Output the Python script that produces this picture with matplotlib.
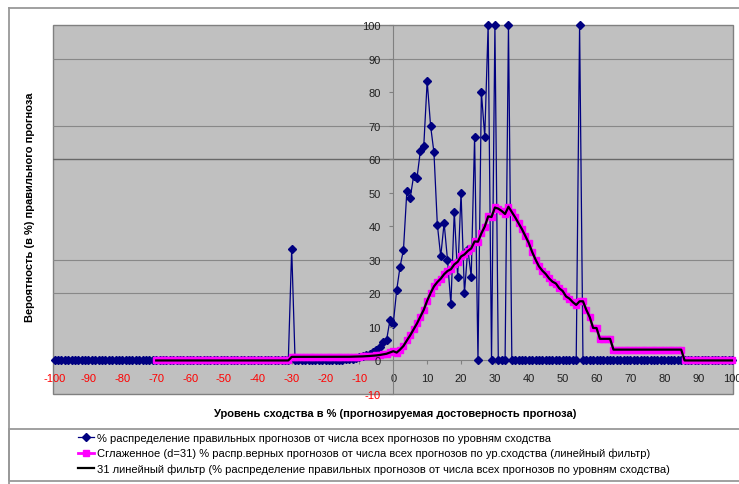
import matplotlib
matplotlib.use("Agg")
import matplotlib.pyplot as plt
from matplotlib.lines import Line2D
from matplotlib.patches import Rectangle

plt.rcParams['font.family'] = ['Liberation Sans', 'DejaVu Sans']
plt.rcParams['axes.unicode_minus'] = False

# ---- data ----
levels = list(range(-100, 101))

pct_correct = ([0] * 70 + [33.3] + [0] * 14 +
               [0.2, 0.3, 0.4, 0.5, 0.7, 0.9, 1.2, 1.6, 2.0, 2.5, 3.0, 4.0, 5.5, 6.0,
                12.0, 11.0,
                21, 28, 33, 50.5, 48.5, 55, 54.5, 62.5, 64, 83.3,
                70, 62, 40.5, 31, 41, 30, 16.7, 44.4, 25, 50,
                20, 33.3, 25, 66.7, 0, 80, 66.7, 100, 0, 100,
                0, 0, 0, 100] +
               [0] * 20 + [100] + [0] * 45)

smooth_levels = list(range(-70, 101))
smoothed = ([0] * 40 + [1.07] * 15 +
            [1.08, 1.09, 1.10, 1.12, 1.14, 1.17, 1.21, 1.26, 1.33, 1.41, 1.50, 1.63, 1.81, 2.00, 2.39] +
            [2.75, 2.35, 3.25, 4.32, 5.95, 7.51, 9.28, 11.04, 13.06, 15.12, 17.81] +
            [20.07, 22.07, 23.37, 24.37, 25.70, 26.66, 27.19, 28.61, 29.40, 30.99] +
            [31.60, 32.64, 33.39, 35.48, 35.40, 37.88, 39.91, 42.95, 42.76, 45.60] +
            [45.25, 44.57, 43.66, 45.83, 44.20, 42.63, 40.86, 39.10, 37.08, 35.02] +
            [32.33, 30.07, 28.07, 26.77, 25.77, 24.45, 23.48, 22.94, 21.51, 20.70] +
            [19.09, 18.44, 17.37, 16.56, 17.64, 17.64, 15.05, 12.90, 9.68, 9.68] +
            [6.45, 6.45, 6.45, 6.45] + [3.23] * 21 + [0] * 15)
trend = smoothed  # 31-point linear filter trendline (same curve)

x_ticks = list(range(-100, 101, 10))
y_ticks = list(range(-10, 101, 10))
grid_levels = [20, 30, 70, 90]
dark_grid_levels = [60]

labels = [
    "% распределение правильных прогнозов от числа всех прогнозов по уровням сходства",
    "Сглаженное (d=31) % распр.верных прогнозов от числа всех прогнозов по ур.сходства (линейный фильтр)",
    "31 линейный фильтр (% распределение правильных прогнозов от числа всех прогнозов по уровням сходства)",
]
xlabel = "Уровень сходства в % (прогнозируемая достоверность прогноза)"
ylabel = "Вероятность (в %) правильного прогноза"

# ---- figure ----
W, H = 739, 485
fig = plt.figure(figsize=(W / 100, H / 100), dpi=100)
fig.patch.set_facecolor('white')

L, R, T, B = 53, 733.3, 26, 395
ax = fig.add_axes([L / W, 1 - B / H, (R - L) / W, (B - T) / H])
ax.set_facecolor('#C0C0C0')
ax.patch.set_edgecolor('#808080')
ax.patch.set_linewidth(1.0)

ax.set_xlim(-100.47, 100.38)
ax.set_ylim(-10, 100)

for g in grid_levels:
    ax.axhline(g, color='#888888', lw=0.8, zorder=1)
for g in dark_grid_levels:
    ax.axhline(g, color='#686868', lw=1.0, zorder=1)

ax.plot(levels, pct_correct, color='#000080', lw=0.9, marker='D', ms=3.6,
        mec='#000080', mfc='#000080', clip_on=False, zorder=3, label=labels[0])
ax.plot(smooth_levels, smoothed, color='#FF00FF', lw=2, marker='s', ms=4.6,
        mec='#FF00FF', mfc='#FF00FF', clip_on=False, zorder=4, label=labels[1])
ax.plot(smooth_levels, trend, color='black', lw=1.6, clip_on=False, zorder=5,
        label=labels[2])

for s in ['top', 'right']:
    ax.spines[s].set_visible(False)
ax.spines['left'].set_position(('data', 0))
ax.spines['bottom'].set_position(('data', 0))
ax.spines['left'].set_color('#808080')
ax.spines['bottom'].set_color('#808080')
ax.spines['left'].set_zorder(2)
ax.spines['bottom'].set_zorder(2)

ax.set_xticks(x_ticks, [str(v) for v in x_ticks])
ax.set_yticks(y_ticks, [str(v) for v in y_ticks])
ax.tick_params(axis='x', direction='out', length=3, color='#808080', pad=6,
               labelsize=8, labelcolor='#202020')
ax.tick_params(axis='y', direction='out', length=3, color='#808080', pad=6,
               labelsize=8, labelcolor='#202020')
ax.yaxis.set_zorder(6)
for lbl, v in zip(ax.get_xticklabels(), x_ticks):
    if v < 0:
        lbl.set_color('#FF0000')
for lbl, v in zip(ax.get_yticklabels(), y_ticks):
    if v < 0:
        lbl.set_color('#FF0000')

fig.text(30 / W, 1 - 207 / H, ylabel, rotation=90, ha='center', va='center',
         fontsize=8, fontweight='bold')
fig.text(395 / W, 1 - 414 / H, xlabel, ha='center', va='center',
         fontsize=8, fontweight='bold')

# chart-area and legend borders
fig.add_artist(Line2D([9 / W, 1], [1 - 9 / H, 1 - 9 / H], transform=fig.transFigure,
                      color='#999999', lw=1.3))
fig.add_artist(Line2D([9 / W, 9 / W], [0, 1 - 9 / H], transform=fig.transFigure,
                      color='#999999', lw=1.3))
fig.add_artist(Rectangle((9 / W, 1 - 482 / H), 1.0, (482 - 430) / H,
                         transform=fig.transFigure, fill=False,
                         edgecolor='#999999', lw=1.3))

handles, hl = ax.get_legend_handles_labels()
fig.legend(handles, hl, loc='center left', bbox_to_anchor=(78 / W, 1 - 454.5 / H),
           frameon=False, fontsize=8, handlelength=1.45, handletextpad=0.25,
           labelspacing=0.45, borderpad=0, borderaxespad=0, numpoints=1)

fig.savefig('out.png', dpi=100)
